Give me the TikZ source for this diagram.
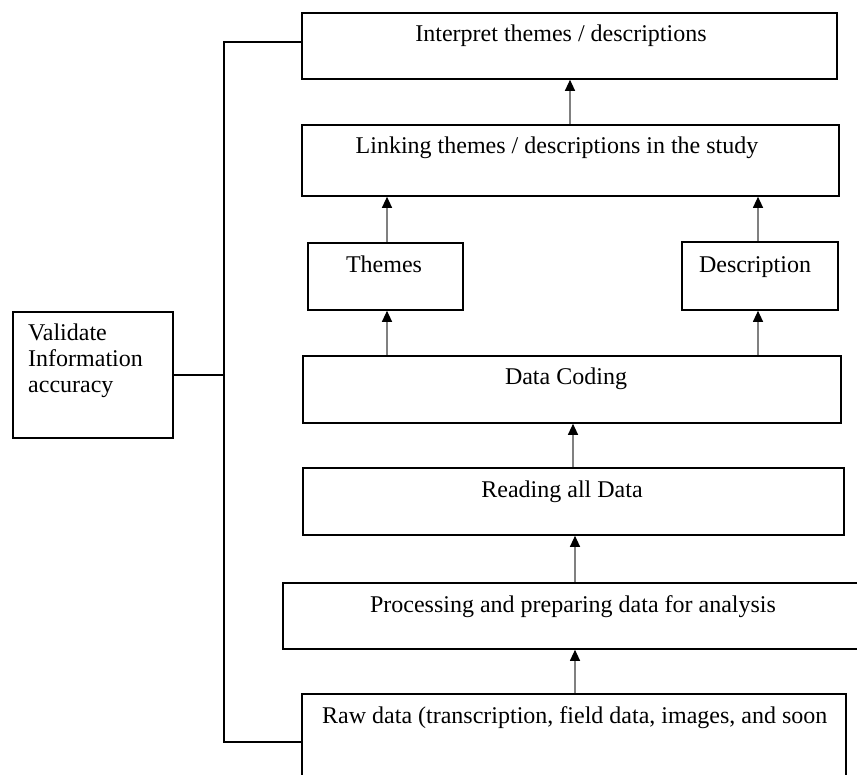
\documentclass[tikz,border=0pt]{standalone}
\usepackage{fontspec}
\setmainfont{Liberation Serif}
\usetikzlibrary{arrows.meta}
\begin{document}
\begin{tikzpicture}[x=1pt,y=-1pt,
  box/.style={draw=black, line width=1.8pt, rectangle, inner sep=0pt},
  txt/.style={inner sep=0pt, font=\fontsize{24}{26}\selectfont},
  link/.style={draw=black, line width=1.6pt},
  arr/.style={draw=black!50, line width=1.1pt,
    -{Triangle[width=10pt,length=11pt,color=black]}}]
  \clip (0,0) rectangle (857,775);
  \fill[white] (0,0) rectangle (857,775);

  % boxes (corner to corner)
  \node[box, minimum width=535pt, minimum height=66pt, anchor=north west] (interp) at (301,12) {};
  \node[box, minimum width=537pt, minimum height=71pt, anchor=north west] (linking) at (301,124) {};
  \node[box, minimum width=155pt, minimum height=67pt, anchor=north west] (themes) at (307,242) {};
  \node[box, minimum width=156pt, minimum height=68pt, anchor=north west] (descr) at (681,241) {};
  \node[box, minimum width=538pt, minimum height=67pt, anchor=north west] (coding) at (302,355) {};
  \node[box, minimum width=541pt, minimum height=67pt, anchor=north west] (reading) at (302,467) {};
  \node[box, minimum width=600pt, minimum height=66pt, anchor=north west] (process) at (282,582) {};
  \node[box, minimum width=544pt, minimum height=100pt, anchor=north west] (raw) at (301,693) {};
  \node[box, minimum width=160pt, minimum height=126pt, anchor=north west] (valid) at (12,311) {};

  % labels
  \node[txt, anchor=base] at (561,42) {Interpret themes / descriptions};
  \node[txt, anchor=base] at (557,154) {Linking themes / descriptions in the study};
  \node[txt, anchor=base] at (384,273) {Themes};
  \node[txt, anchor=base] at (755,273) {Description};
  \node[txt, anchor=base] at (566,385) {Data Coding};
  \node[txt, anchor=base] at (562,497) {Reading all Data};
  \node[txt, anchor=base] at (573,612) {Processing and preparing data for analysis};
  \node[txt, anchor=base west] at (322,723) {Raw data (transcription, field data, images, and soon};
  \node[txt, anchor=base west, align=left] at (28,393) {Validate\\Information\\accuracy};

  % arrow columns
  \coordinate (ca) at (570,0);
  \coordinate (cb) at (387,0);
  \coordinate (cc) at (758,0);
  \coordinate (cd) at (573,0);
  \coordinate (ce) at (575,0);
  \draw[arr] (linking.north -| ca) -- (interp.south -| ca);
  \draw[arr] (themes.north -| cb) -- (linking.south -| cb);
  \draw[arr] (descr.north -| cc) -- (linking.south -| cc);
  \draw[arr] (coding.north -| cb) -- (themes.south -| cb);
  \draw[arr] (coding.north -| cc) -- (descr.south -| cc);
  \draw[arr] (reading.north -| cd) -- (coding.south -| cd);
  \draw[arr] (process.north -| ce) -- (reading.south -| ce);
  \draw[arr] (raw.north -| ce) -- (process.south -| ce);

  % validation bracket on the left
  \coordinate (bt) at (224,42);
  \coordinate (bb) at (224,742);
  \draw[link] (interp.west |- bt) -- (bt) -- (bb) -- (raw.west |- bb);
  \draw[link] (valid.east) -- (valid.east -| bt);
\end{tikzpicture}
\end{document}
